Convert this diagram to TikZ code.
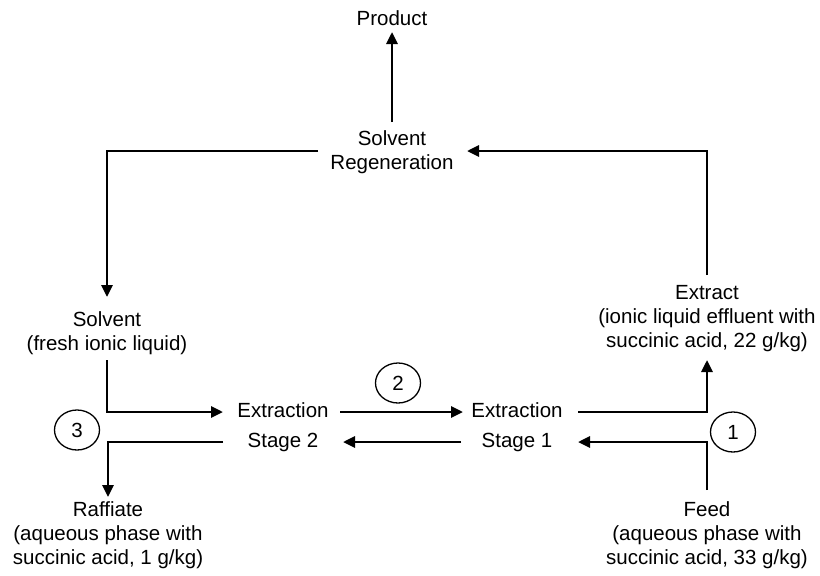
\documentclass[tikz,border=0pt]{standalone}
\usepackage{fontspec}
\setmainfont{Liberation Sans}
\usetikzlibrary{arrows.meta,shapes.geometric}
\begin{document}
\begin{tikzpicture}[x=1pt,y=-1pt,
  lbl/.style={align=center,inner sep=0pt,font=\fontsize{20.5}{24}\selectfont},
  stg/.style={align=center,inner sep=0pt,font=\fontsize{20.5}{30}\selectfont},
  num/.style={draw,ellipse,line width=1.3pt,minimum width=45pt,minimum height=40pt,inner sep=0pt,font=\fontsize{20.5}{24}\selectfont},
  flow/.style={line width=2.8pt,-{Triangle[length=12pt,width=11pt]}}]
\useasboundingbox (0,0) rectangle (820,576);
\node[lbl] (prod) at (392,18) {Product};
\node[lbl] (regen) at (392,152) {Solvent\\Regeneration};
\node[lbl] (solv) at (107,333) {Solvent\\(fresh ionic liquid)};
\node[lbl] (extr) at (707,319) {Extract\\(ionic liquid effluent with\\succinic acid, 22 g/kg)};
\node[lbl] (feed) at (707,535) {Feed\\(aqueous phase with\\succinic acid, 33 g/kg)};
\node[lbl] (raff) at (108,535) {Raffiate\\(aqueous phase with\\succinic acid, 1 g/kg)};
\node[stg] (s2) at (283,427) {Extraction\\Stage 2};
\node[stg] (s1) at (517,427) {Extraction\\Stage 1};
\node[num] (c1) at (733,432) {1};
\node[num] (c2) at (398,383) {2};
\node[num] (c3) at (77,430) {3};
% coordinates
\coordinate (pA) at (392,122);
\coordinate (pB) at (392,32);
\coordinate (rL) at (318,151);
\coordinate (rLc) at (107,151);
\coordinate (rLe) at (107,297);
\coordinate (eT) at (707,275);
\coordinate (eTc) at (707,151);
\coordinate (rR) at (467,151);
\coordinate (sA) at (107,360);
\coordinate (sC) at (107,412);
\coordinate (s2inT) at (223,412);
\coordinate (s2outT) at (340,412);
\coordinate (s1inT) at (463,412);
\coordinate (s1outT) at (578,412);
\coordinate (eC) at (707,412);
\coordinate (eE) at (707,360);
\coordinate (fA) at (707,490);
\coordinate (fC) at (707,442);
\coordinate (s1inB) at (578,442);
\coordinate (s1outB) at (461,442);
\coordinate (s2inB) at (343,442);
\coordinate (s2outB) at (223,442);
\coordinate (rC) at (108,442);
\coordinate (rE) at (108,497);
% connectors
\draw[flow] (pA) -- (pB);
\draw[flow] (rL) -- (rLc) -- (rLe);
\draw[flow] (eT) -- (eTc) -- (rR);
\draw[flow] (sA) -- (sC) -- (s2inT);
\draw[flow] (s2outT) -- (s1inT);
\draw[flow] (s1outT) -- (eC) -- (eE);
\draw[flow] (fA) -- (fC) -- (s1inB);
\draw[flow] (s1outB) -- (s2inB);
\draw[flow] (s2outB) -- (rC) -- (rE);
\end{tikzpicture}
\end{document}
